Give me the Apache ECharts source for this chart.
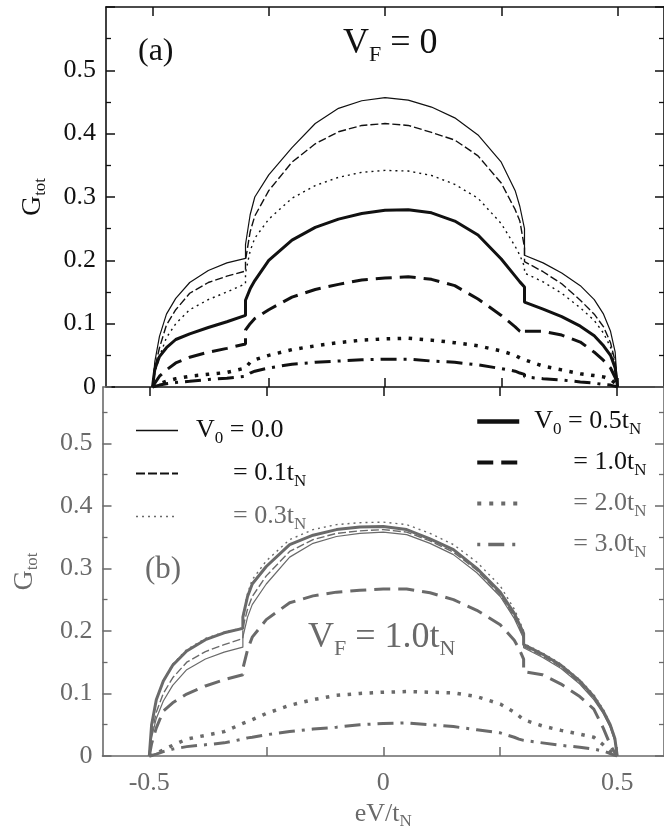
<!DOCTYPE html>
<html><head><meta charset="utf-8">
<script src="https://cdn.jsdelivr.net/npm/echarts@6.0.0/dist/echarts.min.js"></script>
<style>html,body{margin:0;padding:0;background:#fff}#c{width:664px;height:836px}</style>
</head><body><div id="c"></div>
<script>
// ---------------- DATA ----------------
const xGrid = [-0.5,-0.495,-0.485,-0.47,-0.45,-0.42,-0.38,-0.34,-0.30,-0.30,-0.29,-0.28,-0.25,-0.20,-0.15,-0.10,-0.05,0,0.05,0.10,0.15,0.20,0.25,0.28,0.29,0.30,0.30,0.34,0.38,0.42,0.45,0.47,0.485,0.495,0.5];
const seriesNames = ['V0 = 0.0','V0 = 0.1','V0 = 0.3','V0 = 0.5','V0 = 1.0','V0 = 2.0','V0 = 3.0'];

// panel (a): V_F = 0
const a_V00 = [0,0.04,0.08,0.115,0.14,0.165,0.184,0.196,0.203,0.225,0.272,0.30,0.335,0.378,0.416,0.44,0.452,0.457,0.453,0.442,0.425,0.398,0.355,0.31,0.285,0.25,0.208,0.196,0.18,0.16,0.138,0.115,0.088,0.055,0];
const a_V01 = [0,0.03,0.062,0.098,0.122,0.148,0.165,0.175,0.183,0.20,0.245,0.27,0.31,0.355,0.384,0.403,0.413,0.416,0.413,0.402,0.39,0.365,0.322,0.28,0.262,0.22,0.198,0.182,0.163,0.137,0.115,0.095,0.07,0.04,0];
const a_V03 = [0,0.022,0.048,0.078,0.1,0.122,0.138,0.15,0.163,0.18,0.215,0.235,0.265,0.298,0.318,0.331,0.339,0.342,0.341,0.334,0.32,0.298,0.258,0.222,0.208,0.19,0.18,0.166,0.148,0.125,0.105,0.085,0.063,0.035,0];
const a_V05 = [0,0.028,0.048,0.062,0.075,0.084,0.094,0.103,0.113,0.137,0.155,0.168,0.2,0.232,0.252,0.265,0.274,0.279,0.28,0.275,0.262,0.24,0.202,0.175,0.166,0.158,0.134,0.123,0.111,0.096,0.081,0.065,0.05,0.03,0];
const a_V10 = [0,0.006,0.017,0.027,0.038,0.047,0.055,0.061,0.068,0.09,0.1,0.108,0.122,0.142,0.154,0.162,0.169,0.172,0.174,0.17,0.16,0.139,0.113,0.095,0.088,0.084,0.088,0.088,0.082,0.071,0.055,0.042,0.03,0.015,0];
const a_V20 = [0,0.002,0.005,0.009,0.013,0.017,0.02,0.023,0.03,0.033,0.039,0.043,0.05,0.059,0.065,0.07,0.074,0.076,0.077,0.074,0.07,0.065,0.057,0.05,0.046,0.043,0.041,0.033,0.027,0.021,0.018,0.016,0.012,0.006,0];
const a_V30 = [0,0.001,0.003,0.005,0.007,0.009,0.012,0.014,0.017,0.019,0.022,0.025,0.03,0.036,0.039,0.041,0.043,0.044,0.044,0.041,0.039,0.035,0.029,0.025,0.022,0.02,0.016,0.013,0.011,0.008,0.006,0.004,0.003,0.001,0];

// panel (b): V_F = 1.0 t_N
const b_V00 = [0,0.03,0.06,0.088,0.113,0.138,0.155,0.166,0.174,0.19,0.222,0.242,0.275,0.318,0.34,0.351,0.356,0.358,0.354,0.34,0.322,0.293,0.255,0.22,0.204,0.188,0.173,0.158,0.14,0.115,0.09,0.068,0.046,0.024,0];
const b_V01 = [0,0.035,0.07,0.1,0.125,0.15,0.167,0.178,0.188,0.205,0.235,0.255,0.288,0.327,0.346,0.356,0.36,0.362,0.358,0.344,0.326,0.297,0.258,0.223,0.207,0.19,0.175,0.16,0.142,0.117,0.092,0.07,0.048,0.026,0];
const b_V03 = [0,0.05,0.09,0.12,0.147,0.17,0.188,0.198,0.205,0.225,0.26,0.282,0.312,0.346,0.362,0.37,0.373,0.374,0.37,0.356,0.338,0.31,0.272,0.235,0.218,0.2,0.18,0.165,0.147,0.122,0.098,0.075,0.052,0.03,0];
const b_V05 = [0,0.05,0.09,0.12,0.145,0.168,0.186,0.197,0.204,0.222,0.255,0.275,0.303,0.338,0.353,0.362,0.366,0.367,0.362,0.347,0.33,0.30,0.262,0.228,0.212,0.196,0.178,0.163,0.145,0.12,0.095,0.072,0.05,0.028,0];
const b_V10 = [0,0.02,0.045,0.072,0.085,0.099,0.112,0.122,0.13,0.14,0.17,0.19,0.218,0.245,0.256,0.262,0.265,0.267,0.267,0.261,0.25,0.233,0.21,0.185,0.172,0.155,0.135,0.13,0.115,0.095,0.075,0.045,0.018,0.005,0];
const b_V20 = [0,0.001,0.004,0.01,0.017,0.027,0.033,0.039,0.052,0.052,0.055,0.058,0.068,0.081,0.09,0.097,0.1,0.102,0.103,0.102,0.101,0.095,0.083,0.07,0.064,0.058,0.056,0.048,0.041,0.035,0.03,0.018,0.008,0.002,0];
const b_V30 = [0,0.001,0.003,0.007,0.011,0.015,0.018,0.021,0.027,0.028,0.029,0.03,0.034,0.039,0.043,0.046,0.05,0.052,0.053,0.05,0.047,0.042,0.037,0.03,0.027,0.025,0.024,0.021,0.017,0.014,0.011,0.008,0.004,0.001,0];

const xTickValues = [-0.5,-0.25,0,0.25,0.5];
const xLabelValues = [-0.5,0,0.5];
const yMaxA = 0.6, yMaxB = 0.59, yStep = 0.1;

// ---------------- STYLE ----------------
const SERIF = '"Liberation Serif","Times New Roman",serif';
const BLACK = '#111', GREY = '#6a6a6a';
const lineStyles = [
  {width:1.2, type:'solid'},
  {width:1.4, type:[8,3]},
  {width:1.4, type:[2,4]},
  {width:3, type:'solid'},
  {width:3, type:[16,8]},
  {width:3.5, type:[3.5,7.5]},
  {width:3, type:[16,7,3,7]}
];
const legendLine = [
  {width:1.4, type:'solid', color:BLACK},
  {width:2, type:[9,3], color:BLACK},
  {width:1.5, type:[2,4], color:GREY},
  {width:4.5, type:'solid', color:BLACK},
  {width:4, type:[16,8], color:BLACK},
  {width:4, type:[4,8], color:GREY},
  {width:3.5, type:[3,8,16,8], color:GREY}
];
const panelA = [a_V00,a_V01,a_V03,a_V05,a_V10,a_V20,a_V30];
const panelB = [b_V00,b_V01,b_V03,b_V05,b_V10,b_V20,b_V30];

function rich(size, sub, extra) {
  const r = {
    m: {fontFamily:SERIF, fontSize:size, lineHeight:32},
    s: {fontFamily:SERIF, fontSize:sub, lineHeight:16, padding:[16,0,0,0]}
  };
  return Object.assign(r, extra || {});
}

function makeSeries(vals, xi, yi, color) {
  return vals.map((ys, k) => ({
    name: seriesNames[k], type:'line', xAxisIndex:xi, yAxisIndex:yi,
    symbol:'none', smooth:false, animation:false,
    lineStyle:{color:color, width:lineStyles[k].width, type:lineStyles[k].type},
    itemStyle:{color:color},
    data: xGrid.map((x,i) => [x, ys[i]])
  }));
}

function xAx(gi, pos, color, showLabels) {
  return {
    gridIndex:gi, type:'value', position:pos, min:-0.6, max:0.6,
    axisLine:{show:true, onZero:false, lineStyle:{color:color, width:1.6}},
    axisTick:{show:true, inside:true, length:9, customValues:xTickValues, lineStyle:{color:color, width:1.5}},
    axisLabel:{show:showLabels, customValues:xLabelValues, margin:14, color:color, fontFamily:SERIF, fontSize:26,
      formatter: v => v === 0 ? '0' : String(v)},
    splitLine:{show:false}
  };
}
function yAx(gi, pos, max, color, showLabels) {
  return {
    gridIndex:gi, type:'value', position:pos, min:0, max:max, interval:yStep,
    axisLine:{show:true, onZero:false, lineStyle:{color:color, width:1.6}},
    axisTick:{show:true, inside:true, length:9, lineStyle:{color:color, width:1.5}},
    minorTick:{show:true, splitNumber:2, length:5, lineStyle:{color:color, width:1.3}},
    axisLabel:{show:showLabels, showMaxLabel:false, margin:10, color:color, fontFamily:SERIF, fontSize:26,
      formatter: v => v === 0 ? '0' : v.toFixed(1)},
    splitLine:{show:false}, minorSplitLine:{show:false}
  };
}

const yA = yAx(0,'left',yMaxA,BLACK,true);
Object.assign(yA, {name:'{g|G}{s|tot}', nameLocation:'middle', nameRotate:90, nameGap:57,
  nameTextStyle:{color:BLACK, rich:rich(27,17,{g:{fontFamily:SERIF,fontSize:28,lineHeight:32}})}});
const yB = yAx(1,'left',yMaxB,GREY,true);
Object.assign(yB, {name:'{g|G}{s|tot}', nameLocation:'middle', nameRotate:90, nameGap:62,
  nameTextStyle:{color:GREY, rich:rich(27,17,{g:{fontFamily:SERIF,fontSize:28,lineHeight:32}})}});
const xB = xAx(1,'bottom',GREY,true);
Object.assign(xB, {name:'{m|eV/t}{s|N}', nameLocation:'middle', nameGap:42,
  nameTextStyle:{color:GREY, rich:rich(26,17)}});
const xBtop = xAx(1,'top',BLACK,false);
xBtop.axisLine.show = false;

const legendLabels = {
  'V0 = 0.0':'{p1| }{m|V}{s|0}{m| = 0.0}',
  'V0 = 0.1':'{p2| }{m|= 0.1t}{s|N}',
  'V0 = 0.3':'{p2| }{m|= 0.3t}{s|N}',
  'V0 = 0.5':'{q1| }{m|V}{s|0}{m| = 0.5t}{s|N}',
  'V0 = 1.0':'{q2| }{m|= 1.0t}{s|N}',
  'V0 = 2.0':'{q2| }{m|= 2.0t}{s|N}',
  'V0 = 3.0':'{q2| }{m|= 3.0t}{s|N}'
};
const legRich = rich(26,17,{p1:{width:13},p2:{width:50},q1:{width:10},q2:{width:49}});
function legItem(k) {
  const ls = legendLine[k];
  return {name:seriesNames[k], textStyle:{color:ls.color},
    lineStyle:{color:ls.color, width:ls.width, type:ls.type, opacity:1}};
}
function legend(left, top, gap, ks) {
  return {
    orient:'vertical', left:left, top:top, padding:0, itemGap:gap, itemWidth:42, itemHeight:14,
    selectedMode:false, itemStyle:{opacity:0},
    formatter: n => legendLabels[n],
    textStyle:{color:BLACK, rich:legRich},
    data: ks.map(legItem)
  };
}

const option = {
  animation:false,
  backgroundColor:'#fff',
  grid:[{left:106, top:7, width:562, height:380}, {left:102, top:387, width:564, height:369}],
  xAxis:[xAx(0,'bottom',BLACK,false), xAx(0,'top',BLACK,false), xB, xBtop],
  yAxis:[yA, yAx(0,'right',yMaxA,BLACK,false), yB, yAx(1,'right',yMaxB,GREY,false)],
  legend:[
    legend(135, 414, 10, [0,1,2]),
    legend(475, 405, 8, [3,4,5,6])
  ],
  graphic:[
    {type:'text', x:138, y:36, style:{text:'(a)', font:'32px '+SERIF, fill:BLACK}},
    {type:'text', x:343, y:24, style:{text:'{m|V}{s|F}{m| = 0}', fill:BLACK,
      rich:{m:{fontFamily:SERIF,fontSize:36,lineHeight:40}, s:{fontFamily:SERIF,fontSize:22,lineHeight:20,padding:[22,0,0,0]}}}},
    {type:'text', x:145, y:554, style:{text:'(b)', font:'31px '+SERIF, fill:GREY}},
    {type:'text', x:308, y:618, style:{text:'{m|V}{s|F}{m| = 1.0t}{s|N}', fill:GREY,
      rich:{m:{fontFamily:SERIF,fontSize:36,lineHeight:40}, s:{fontFamily:SERIF,fontSize:22,lineHeight:20,padding:[22,0,0,0]}}}}
  ],
  series:[...makeSeries(panelA,0,0,BLACK), ...makeSeries(panelB,2,2,GREY)]
};
const chart = echarts.init(document.getElementById('c'), null, {renderer:'canvas'});
chart.setOption(option);
</script></body></html>
